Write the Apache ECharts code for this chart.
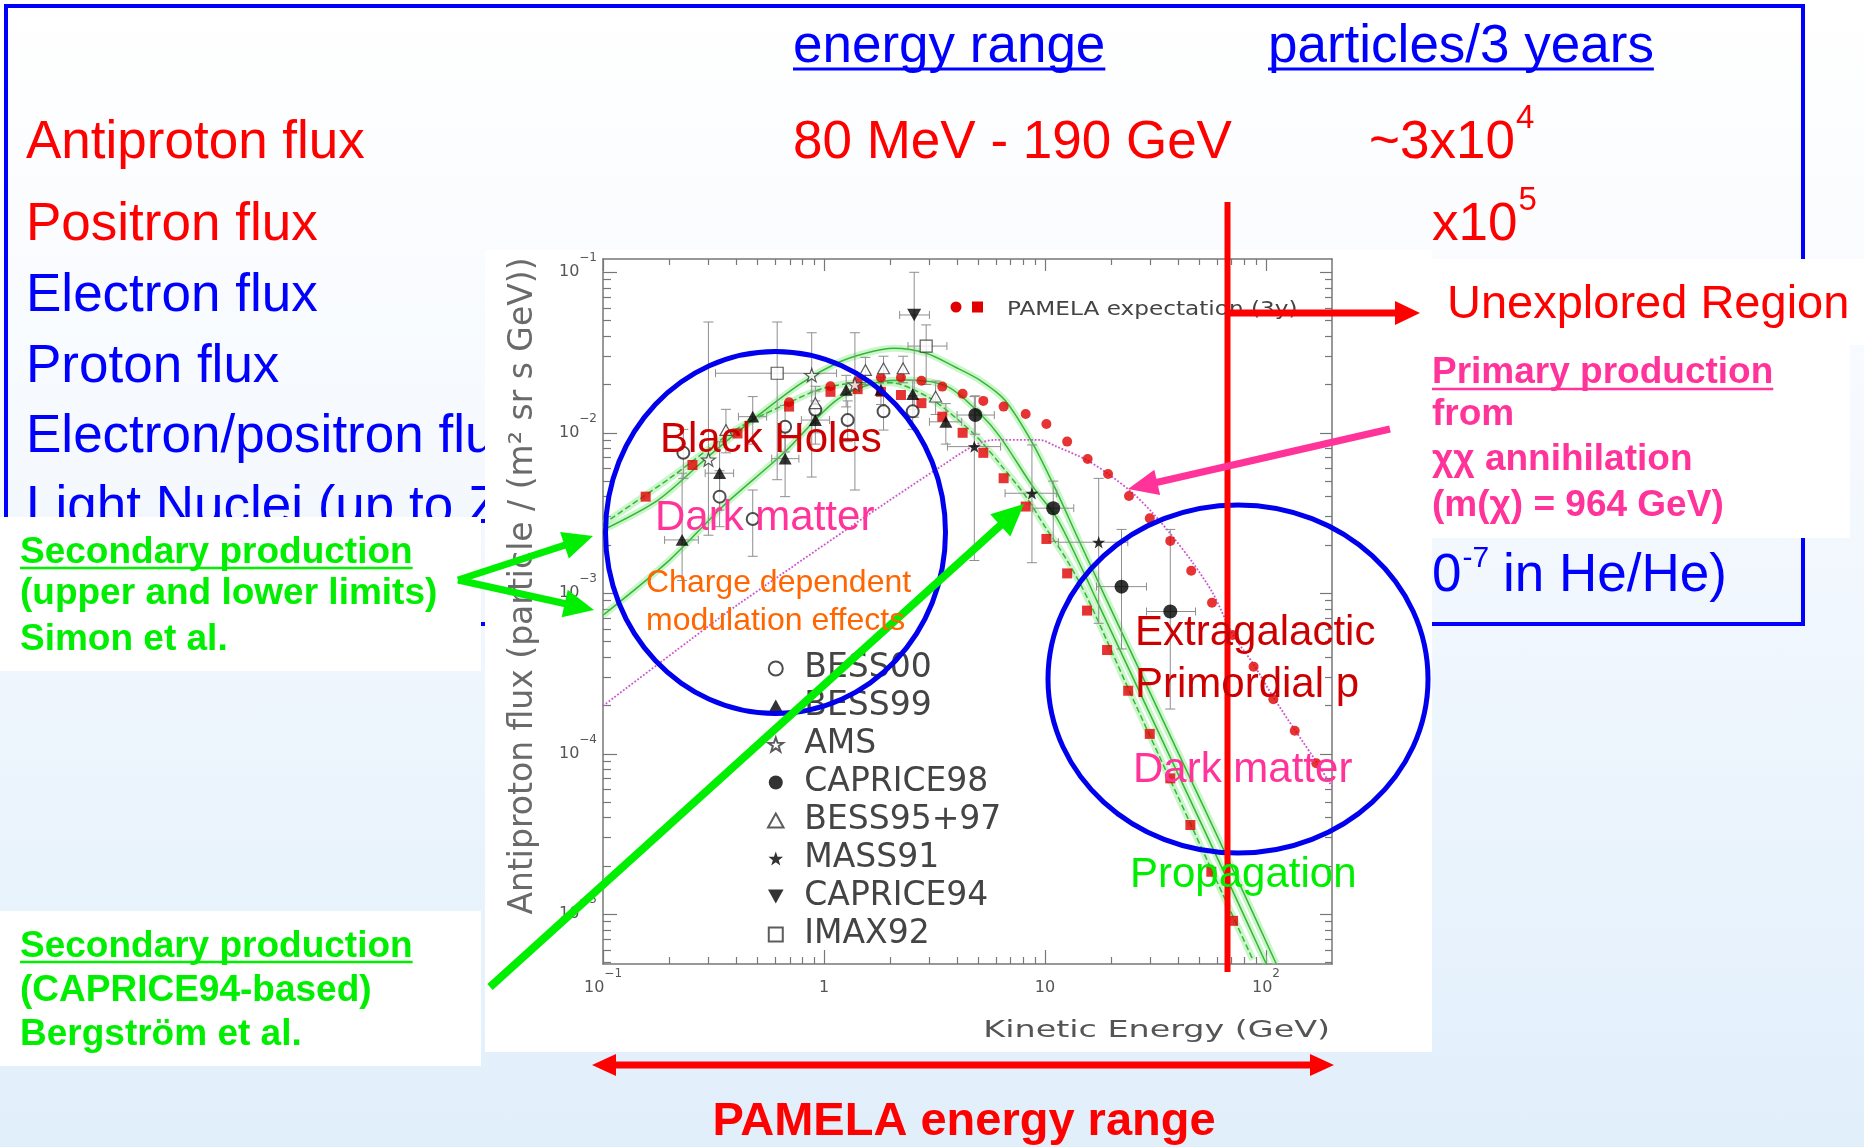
<!DOCTYPE html>
<html><head><meta charset="utf-8">
<script src="https://cdn.jsdelivr.net/npm/echarts@6/dist/echarts.min.js"></script>
<style>
html,body{margin:0;padding:0;}
#c{width:1864px;height:1147px;background:linear-gradient(to bottom,#ffffff 0%,#f5f9fe 40%,#e1effb 100%);}
</style></head><body><div id="c"></div>
<script>
// ---------------- DATA ----------------
const xTickValues = [0.1, 1, 10, 100];
const xTickLabels = [['10','−1'], ['1',''], ['10',''], ['10','2']];
const yTickValues = [1e-5, 1e-4, 1e-3, 1e-2, 1e-1];
const yTickLabels = [['10','−5'], ['10','−4'], ['10','−3'], ['10','−2'], ['10','−1']];

// Secondary production curves [E (GeV), flux]
const simonUpper = [[0.1,0.00248],[0.178,0.00382],[0.299,0.00711],[0.485,0.0123],[0.787,0.0203],[1.14,0.0271],[1.54,0.0313],[2.07,0.0336],[2.90,0.0313],[3.90,0.0258],[5.07,0.0213],[6.58,0.0160],[8.83,0.0085],[11.3,0.0043],[13.9,0.0023],[19.0,0.00091],[40,0.000102],[70,0.0000197],[111,0.00000495]];
const simonLower = [[0.1,0.00073],[0.2,0.00161],[0.35,0.0035],[0.655,0.00745],[1.14,0.0160],[1.79,0.0208],[2.40,0.0213],[3.62,0.0194],[5.07,0.0132],[6.24,0.0095],[8.83,0.0046],[11.3,0.00295],[14.9,0.00137],[17.1,0.00091],[40,0.000075],[70,0.0000144],[100,0.00000495]];
const bergstrom = [[0.1,0.0027],[0.2,0.0052],[0.4,0.0105],[0.7,0.0155],[1.0,0.019],[1.5,0.0205],[2.0,0.0205],[3.0,0.0165],[4.0,0.0122],[5.0,0.0092],[6.5,0.0060],[8.2,0.0040],[10.0,0.0026],[12.6,0.0016],[15.7,0.00091],[25,0.00022],[40,0.000054],[60,0.000016],[87.3,0.0000052]];
// Primary production from neutralino annihilation (m = 964 GeV)
const darkMatterPrimary = [[0.1,0.000199],[0.248,0.000512],[0.416,0.000867],[3.37,0.00615],[5.88,0.00902],[9.47,0.00902],[11.3,0.0082],[15.4,0.00678],[19.6,0.00546],[25.0,0.0042],[30.8,0.00315],[37.9,0.00225],[46.8,0.00154],[57.5,0.0010],[71,0.00055],[87.3,0.000366],[107.6,0.000227],[135,0.000141],[169,0.0000893],[199,0.0000624]];
// PAMELA expectation (3y)
const pamelaSecondary = [[0.156,0.0040],[0.254,0.0063],[0.406,0.0099],[0.695,0.01456],[1.07,0.0180],[1.42,0.0187],[1.81,0.0180],[2.23,0.0172],[2.76,0.0153],[3.43,0.0126],[4.24,0.0100],[5.26,0.0075],[6.5,0.00521],[8.18,0.00347],[10.15,0.00218],[12.6,0.00133],[15.5,0.00078],[19.1,0.000443],[23.8,0.000247],[29.8,0.000133],[36.9,0.0000703],[45.5,0.000036],[56.6,0.0000184],[71.0,0.0000091]];
const pamelaTotal = [[0.695,0.0155],[1.07,0.0195],[1.42,0.0210],[1.81,0.0221],[2.23,0.0221],[2.76,0.0211],[3.43,0.0194],[4.24,0.0175],[5.26,0.0158],[6.5,0.01456],[8.18,0.0131],[10.15,0.01135],[12.6,0.00881],[15.6,0.00687],[19.3,0.00554],[24.0,0.00404],[29.8,0.00293],[36.9,0.00212],[45.9,0.00138],[57.0,0.000874],[70.5,0.00055],[87.9,0.000349],[108,0.000219],[135,0.000139],[169,0.0000873]];
// Measurements: [E, flux, Elow, Ehigh, fluxLow, fluxHigh] (0 = no bar)
const bess00 = [[0.231,0.0075,0,0,0.0052,0.0105],[0.337,0.0040,0,0,0.0026,0.0058],[0.476,0.0029,0,0,0.0017,0.0044],[0.667,0.0109,0,0,0.0076,0.0148],[0.914,0.0139,0,0,0.0100,0.0182],[1.28,0.0120,0,0,0.0088,0.0158],[1.86,0.0136,0,0,0.0104,0.0172],[2.52,0.0136,0,0,0.0105,0.0170]];
const bess99 = [[0.228,0.00215,0.19,0.27,0.0012,0.0056],[0.337,0.0056,0.29,0.39,0.0033,0.0088],[0.476,0.0126,0.41,0.55,0.0085,0.0168],[0.667,0.0069,0.58,0.77,0.0040,0.0105],[0.914,0.0120,0.79,1.06,0.0085,0.0158],[1.26,0.0185,0,0,0.0145,0.0228],[1.81,0.0185,0,0,0.0150,0.0222],[2.52,0.0174,0,0,0.0140,0.0212],[3.56,0.0117,3.0,4.2,0.0085,0.0152]];
const ams = [[0.30,0.0068,0,0,0.0023,0.049],[0.88,0.0229,0,0,0.0053,0.042],[1.38,0.0200,0,0,0.0044,0.042]];
const caprice98 = [[4.84,0.0129,4.0,5.9,0.0098,0.0170],[10.9,0.00339,8.8,13.5,0.0021,0.0050],[22.2,0.00110,17.1,28.8,0.00045,0.0025],[36.9,0.00077,28.8,48.0,0.00019,0.0025]];
const bess9597 = [[0.36,0.0104,0,0,0.0075,0.0140],[0.914,0.0153,0,0,0.0115,0.0195],[1.54,0.0246,0,0,0.0200,0.0295],[1.86,0.0252,0,0,0.0210,0.0300],[2.28,0.0252,0,0,0.0205,0.0300],[3.20,0.0168,0,0,0.0130,0.0210]];
const mass91 = [[4.79,0.0082,3.62,6.3,0.0016,0.0168],[8.73,0.0042,6.6,11.3,0.00155,0.0084],[17.5,0.00208,11.5,23.7,0.00065,0.0052]];
const caprice94 = [[2.56,0.0542,2.2,3.0,0.0125,0.1]];
const imax92 = [[0.614,0.0235,0.323,1.14,0.0051,0.049],[2.90,0.0347,2.4,3.6,0.020,0.047]];

// ---------------- HELPERS ----------------
const SL = '"Liberation Sans", Arial, sans-serif';
const DV = '"DejaVu Sans", sans-serif';
const mctx = document.createElement('canvas').getContext('2d');
function tw(text, size, weight, fam){ mctx.font = (weight||'normal') + ' ' + size + 'px ' + fam; return mctx.measureText(text).width; }
const BF = 0.27; // baseline -> middle offset factor
function T(text, x, baseline, size, color, o){
  o = o || {};
  const weight = o.weight || 'normal', fam = o.family || SL, al = o.align || 'left';
  return {type:'text', z:o.z==null?1:o.z, x:x, y:baseline - BF*size, rotation:o.rotation||0, scaleX:o.scaleX||1,
    style:{text:text, fill:color, fontSize:size, fontWeight:weight, fontFamily:fam,
      align:al, textAlign:al, verticalAlign:'middle', textVerticalAlign:'middle'}};
}
function UL(x, y, w, color, lw, z){ return {type:'line', z:z==null?1:z, shape:{x1:x,y1:y,x2:x+w,y2:y}, style:{stroke:color, lineWidth:lw}}; }
function RECT(x,y,w,h,fill,z){ return {type:'rect', z:z, shape:{x:x,y:y,width:w,height:h}, style:{fill:fill}}; }
function head(x2,y2,ux,uy,hl,hw,color,z){
  const bx = x2-ux*hl, by = y2-uy*hl;
  return {type:'polygon', z:z, shape:{points:[[x2,y2],[bx-uy*hw,by+ux*hw],[bx+uy*hw,by-ux*hw]]}, style:{fill:color}};
}
function arrow(x1,y1,x2,y2,w,hl,hw,color,z){
  const dx=x2-x1, dy=y2-y1, L=Math.hypot(dx,dy), ux=dx/L, uy=dy/L;
  return [{type:'line', z:z, shape:{x1:x1,y1:y1,x2:x2-ux*(hl-2),y2:y2-uy*(hl-2)}, style:{stroke:color,lineWidth:w}},
          head(x2,y2,ux,uy,hl,hw,color,z)];
}
function fmtFrom(vals, labels){
  return function(v){
    for (let i=0;i<vals.length;i++){
      if (Math.abs(Math.log10(v)-Math.log10(vals[i]))<1e-3){
        const l = labels[i];
        return l[1] ? '{b|'+l[0]+'}{s|'+l[1]+'}' : '{b|'+l[0]+'}';
      }
    }
    return '';
  };
}
const tickRich = {
  b:{fontSize:16, lineHeight:40, fontFamily:DV, color:'#555'},
  s:{fontSize:12, lineHeight:12, padding:[0,0,28,0], fontFamily:DV, color:'#555'}
};
const xMinor = [], yMinor = [];
for (let d=-1; d<=2; d++) for (let k=2;k<=9;k++){ const v=k*Math.pow(10,d); if (v<199) xMinor.push(v); }
for (let d=-6; d<=-2; d++) for (let k=2;k<=9;k++){ const v=k*Math.pow(10,d); if (v>4.9e-6 && v<0.121) yMinor.push(v); }

// ---------------- GRAPHICS (slide) ----------------
const RED='#ff0000', BLUE='#0000ff', GREEN='#00ee00', PINK='#ff3399', DRED='#cc0000', ORANGE='#ff6600';
const G = [];
// table frame
G.push({type:'rect', z:1, shape:{x:6,y:6,width:1797,height:618}, style:{fill:'transparent', stroke:BLUE, lineWidth:4}});
// header
G.push(T('energy range', 793, 62, 53, BLUE)); G.push(UL(793, 69, tw('energy range',53,'normal',SL), BLUE, 3));
G.push(T('particles/3 years', 1268, 62, 53, BLUE)); G.push(UL(1268, 69, tw('particles/3 years',53,'normal',SL), BLUE, 3));
// rows
G.push(T('Antiproton flux', 26, 158, 53, RED));
G.push(T('80 MeV - 190 GeV', 793, 158, 53, RED));
G.push(T('~3x10', 1369, 158, 53, RED)); G.push(T('4', 1369 + tw('~3x10',53,'normal',SL) + 1, 128, 33, RED));
G.push(T('Positron flux', 26, 240, 53, RED));
G.push(T('x10', 1432, 240, 53, RED)); G.push(T('5', 1432 + tw('x10',53,'normal',SL) + 1, 210, 33, RED));
G.push(T('Electron flux', 26, 311, 53, BLUE));
G.push(T('Proton flux', 26, 382, 53, BLUE));
G.push(T('Electron/positron flux', 26, 452, 53, BLUE));
G.push(T('Light Nuclei (up to Z=6)', 26, 523, 53, BLUE));
(function(){ const w0 = tw('0',53,'normal',SL); G.push(T('0', 1432, 591, 53, BLUE)); G.push(T('-7', 1432+w0+1, 567, 30, BLUE)); G.push(T('in He/He)', 1503, 591, 53, BLUE)); })();

// white panels
G.push(RECT(485,250,947,802,'#ffffff',2));
G.push(RECT(0,517,481,154,'#ffffff',2));
G.push(RECT(0,911,481,155,'#ffffff',2));
G.push(RECT(1432,259,432,86,'#ffffff',2));
G.push(RECT(1421,345,429,193,'#ffffff',2));

// side texts
G.push(T('Unexplored Region', 1447, 318, 47, RED, {z:10}));
G.push(T('Primary production', 1432, 383, 37, PINK, {weight:'bold', z:10})); G.push(UL(1432, 389, tw('Primary production',37,'bold',SL), PINK, 2.5, 10));
G.push(T('from', 1432, 425, 37, PINK, {weight:'bold', z:10}));
G.push(T('χχ annihilation', 1432, 470, 37, PINK, {weight:'bold', z:10}));
G.push(T('(m(χ) = 964 GeV)', 1432, 516, 37, PINK, {weight:'bold', z:10}));
G.push(T('Secondary production', 20, 563, 37, GREEN, {weight:'bold', z:10})); G.push(UL(20, 568, tw('Secondary production',37,'bold',SL), GREEN, 2.5, 10));
G.push(T('(upper and lower limits)', 20, 604, 37, GREEN, {weight:'bold', z:10}));
G.push(T('Simon et al.', 20, 650, 37, GREEN, {weight:'bold', z:10}));
G.push(T('Secondary production', 20, 957, 37, GREEN, {weight:'bold', z:10})); G.push(UL(20, 962, tw('Secondary production',37,'bold',SL), GREEN, 2.5, 10));
G.push(T('(CAPRICE94-based)', 20, 1001, 37, GREEN, {weight:'bold', z:10}));
G.push(T('Bergström et al.', 20, 1045, 37, GREEN, {weight:'bold', z:10}));

// axis titles (plot)
G.push(T('Antiproton flux (particle / (m² sr s GeV))', 523, 586 + BF*33, 33, '#6a6a6a', {family:DV, align:'center', rotation:Math.PI/2, z:3}));
G.push(T('Kinetic Energy (GeV)', 1330, 1037, 23, '#555', {family:DV, align:'right', scaleX:1.45, z:3}));
// PAMELA legend entry
G.push({type:'circle', z:6, shape:{cx:956, cy:307, r:5.5}, style:{fill:'#e00000'}});
G.push({type:'rect', z:6, shape:{x:972, y:301.5, width:11, height:11}, style:{fill:'#e00000'}});
G.push(T('PAMELA expectation (3y)', 1007, 315, 19, '#444', {family:DV, scaleX:1.22, z:6}));

// overlays
G.push({type:'ellipse', z:10, shape:{cx:775.5, cy:532.5, rx:170, ry:181}, style:{fill:'transparent', stroke:'#0000ee', lineWidth:5}});
G.push({type:'ellipse', z:10, shape:{cx:1238, cy:679, rx:190, ry:174}, style:{fill:'transparent', stroke:'#0000ee', lineWidth:5}});
G.push({type:'line', z:10, shape:{x1:1227.5,y1:202,x2:1227.5,y2:972}, style:{stroke:RED, lineWidth:6}});
G.push.apply(G, arrow(1227, 313, 1420, 313, 7, 25, 12, RED, 10));
G.push.apply(G, arrow(1390, 429, 1128, 489, 7, 30, 13, PINK, 10));
G.push.apply(G, arrow(458, 580, 593, 536, 7, 30, 14, GREEN, 10));
G.push.apply(G, arrow(458, 580, 594, 610, 7, 30, 14, GREEN, 10));
G.push.apply(G, arrow(490, 987, 1024, 504, 8, 32, 15, GREEN, 10));
G.push.apply(G, arrow(963, 1065, 1334, 1065, 7, 24, 11, RED, 10));
G.push.apply(G, arrow(963, 1065, 592, 1065, 7, 24, 11, RED, 10));
G.push(T('Black Holes', 660, 452, 42, DRED, {z:10}));
G.push(T('Dark matter', 655, 530, 42, PINK, {z:10}));
G.push(T('Charge dependent', 646, 592, 32, ORANGE, {z:10}));
G.push(T('modulation effects', 646, 630, 32, ORANGE, {z:10}));
G.push(T('Extragalactic', 1135, 645, 42, DRED, {z:10}));
G.push(T('Primordial p', 1135, 697, 42, DRED, {z:10}));
G.push(T('Dark matter', 1133, 782, 42, PINK, {z:10}));
G.push(T('Propagation', 1130, 887, 42, GREEN, {z:10}));
G.push(T('PAMELA energy range', 964, 1135, 47, RED, {weight:'bold', align:'center', z:10}));

// ---------------- CHART ----------------
const AX = '#777';
function xAx(pos, ticks, len, line, label){
  return {type:'log', logBase:10, min:0.1, max:199, position:pos, z:3,
    splitLine:{show:false},
    axisLine:{show:line, onZero:false, lineStyle:{color:AX, width:1.5}},
    axisTick:{show:true, inside:true, length:len, customValues:ticks, lineStyle:{color:AX, width:1.2}},
    axisLabel: label ? {show:true, customValues:xTickValues, formatter:fmtFrom(xTickValues,xTickLabels), margin:4, rich:tickRich} : {show:false}};
}
function yAx(pos, ticks, len, line, label){
  return {type:'log', logBase:10, min:4.9e-6, max:0.121, position:pos, z:3,
    splitLine:{show:false},
    axisLine:{show:line, onZero:false, lineStyle:{color:AX, width:1.5}},
    axisTick:{show:true, inside:true, length:len, customValues:ticks, lineStyle:{color:AX, width:1.2}},
    axisLabel: label ? {show:true, customValues:yTickValues, formatter:fmtFrom(yTickValues,yTickLabels), margin:6, rich:tickRich} : {show:false}};
}
function pairs(a){ return a.map(function(r){ return [r[0], r[1]]; }); }
function glow(d){ return {type:'line', data:d, symbol:'none', smooth:0.3, silent:true, z:4, lineStyle:{color:'rgba(140,232,140,0.45)', width:7}}; }
function curve(d, color, type, w){ return {type:'line', data:d, symbol:'none', smooth:0.3, silent:true, z:4, lineStyle:{color:color, width:w, type:type}}; }
const STAR = 'path://M0,-10 L2.35,-3.24 L9.51,-3.09 L3.8,1.24 L5.88,8.09 L0,4 L-5.88,8.09 L-3.8,1.24 L-9.51,-3.09 L-2.35,-3.24 Z';
const DOWN = 'path://M0,0 L10,0 L5,9 Z';
const UP = 'path://M5,0 L10,9 L0,9 Z';
const SQ = 'path://M0,0 L10,0 L10,10 L0,10 Z';
function sc(name, d, symbol, size, fill, border){
  return {type:'scatter', name:name, data:pairs(d), symbol:symbol, symbolSize:size, symbolKeepAspect:true, z:6, silent:true,
    itemStyle:{color:fill, borderColor:border||fill, borderWidth:border?1.2:0}};
}
const allErr = [].concat(bess00, bess99, ams, caprice98, bess9597, mass91, caprice94, imax92);
function renderErr(params, api){
  const x=api.value(0), y=api.value(1), xl=api.value(2), xh=api.value(3), yl=api.value(4), yh=api.value(5);
  const st={stroke:'#8e8e8e', lineWidth:1}; const ch=[];
  if (yl>0 && yh>0){
    const a=api.coord([x,yl]), b=api.coord([x,yh]);
    ch.push({type:'line', shape:{x1:a[0],y1:a[1],x2:b[0],y2:b[1]}, style:st});
    ch.push({type:'line', shape:{x1:a[0]-5,y1:a[1],x2:a[0]+5,y2:a[1]}, style:st});
    ch.push({type:'line', shape:{x1:b[0]-5,y1:b[1],x2:b[0]+5,y2:b[1]}, style:st});
  }
  if (xl>0 && xh>0){
    const a=api.coord([xl,y]), b=api.coord([xh,y]);
    ch.push({type:'line', shape:{x1:a[0],y1:a[1],x2:b[0],y2:b[1]}, style:st});
    ch.push({type:'line', shape:{x1:a[0],y1:a[1]-4,x2:a[0],y2:a[1]+4}, style:st});
    ch.push({type:'line', shape:{x1:b[0],y1:b[1]-4,x2:b[0],y2:b[1]+4}, style:st});
  }
  return {type:'group', children:ch};
}

const chart = echarts.init(document.getElementById('c'), null, {renderer:'canvas'});
chart.setOption({
  animation:false,
  backgroundColor:'transparent',
  textStyle:{fontFamily:DV},
  grid:{left:603, top:259, width:729, height:705, containLabel:false, outerBoundsMode:'none'},
  xAxis:[xAx('bottom', xTickValues, 14, true, true), xAx('bottom', xMinor, 7, false, false), xAx('top', xTickValues, 12, true, false), xAx('top', xMinor, 6, false, false)],
  yAxis:[yAx('left', yTickValues, 14, true, true), yAx('left', yMinor, 8, false, false), yAx('right', yTickValues, 12, true, false), yAx('right', yMinor, 7, false, false)],
  legend:{data:['BESS00','BESS99','AMS','CAPRICE98','BESS95+97','MASS91','CAPRICE94','IMAX92'],
    orient:'vertical', left:767, top:652, padding:0, itemWidth:47, itemHeight:14, itemGap:5, selectedMode:false, z:6,
    symbolKeepAspect:true,
    textStyle:{fontFamily:DV, fontSize:33, color:'#444'}},
  graphic:{elements:G},
  series:[
    glow(simonUpper), glow(simonLower), glow(bergstrom),
    curve(simonUpper,'#33b833','solid',1.5), curve(simonLower,'#33b833','solid',1.5), curve(bergstrom,'#33b833','dashed',1.5),
    curve(darkMatterPrimary,'#cc55cc','dotted',1.8),
    {type:'custom', name:'errors', data:allErr, renderItem:renderErr, encode:{x:0, y:1}, z:5, silent:true},
    {type:'scatter', name:'PAMELA secondary', data:pamelaSecondary, symbol:'rect', symbolSize:10, z:6, silent:true, itemStyle:{color:'#e00000'}},
    {type:'scatter', name:'PAMELA total', data:pamelaTotal, symbol:'circle', symbolSize:10, z:6, silent:true, itemStyle:{color:'#e00000'}},
    sc('BESS00', bess00, 'emptyCircle', 12, '#222'),
    sc('BESS99', bess99, UP, 13, '#000'),
    sc('AMS', ams, STAR, 14, '#ffffff', '#333'),
    sc('CAPRICE98', caprice98, 'circle', 14, '#000'),
    sc('BESS95+97', bess9597, UP, 12, '#ffffff', '#333'),
    sc('MASS91', mass91, STAR, 13, '#000'),
    sc('CAPRICE94', caprice94, DOWN, 14, '#000'),
    sc('IMAX92', imax92, SQ, 12, '#ffffff', '#333')
  ]
});
</script></body></html>
